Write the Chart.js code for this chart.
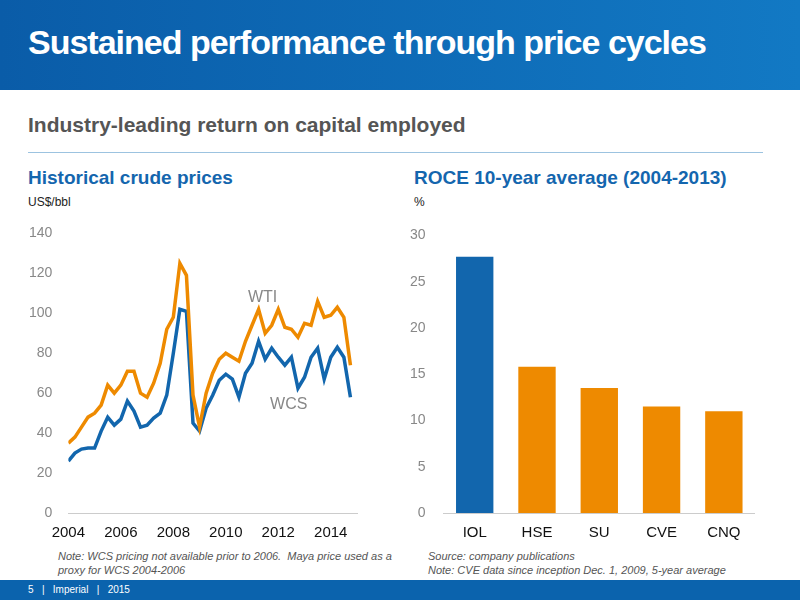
<!DOCTYPE html>
<html>
<head>
<meta charset="utf-8">
<script src="https://cdn.jsdelivr.net/npm/chart.js@4/dist/chart.umd.min.js"></script>
<style>
  body { margin: 0; width: 800px; height: 600px; position: relative; overflow: hidden; background: #fff; font-family: "Liberation Sans", Arial, sans-serif; }
  .header { position: absolute; left: 0; top: 0; width: 800px; height: 90px; background: linear-gradient(90deg, #0a5ca8, #1279c4); }
  .header h1 { position: absolute; left: 28px; top: 23px; margin: 0; color: #fff; font-size: 34px; letter-spacing: -1px; }
  .sub { position: absolute; left: 28px; top: 113px; font-size: 21px; font-weight: bold; color: #555; }
  .rule { position: absolute; left: 28px; top: 152px; width: 735px; border-top: 1px solid #9cc3e0; }
  .ct { position: absolute; font-size: 19px; font-weight: bold; color: #1466ae; }
  .unit { position: absolute; font-size: 12px; color: #222; }
  .note { position: absolute; font-size: 11px; font-style: italic; color: #555; line-height: 14px; }
  .footer { position: absolute; left: 0; top: 580px; width: 800px; height: 20px; background: #0b63ad; color: #fff; font-size: 10px; line-height: 20px; }
  .footer span { margin-left: 28px; }
  canvas { position: absolute; }
</style>
</head>
<body>
<div class="header"><h1>Sustained performance through price cycles</h1></div>
<div class="sub">Industry-leading return on capital employed</div>
<div class="rule"></div>
<div class="ct" style="left:28px;top:167px">Historical crude prices</div>
<div class="unit" style="left:28px;top:195px">US$/bbl</div>
<div class="ct" style="left:414px;top:167px">ROCE 10-year average (2004-2013)</div>
<div class="unit" style="left:414px;top:195px">%</div>
<div class="note" style="left:58px;top:549px">Note: WCS pricing not available prior to 2006.&nbsp; Maya price used as a<br>proxy for WCS 2004-2006</div>
<div class="note" style="left:428px;top:549px">Source: company publications<br>Note: CVE data since inception Dec. 1, 2009, 5-year average</div>
<div class="footer"><span>5 &nbsp;&nbsp;|&nbsp;&nbsp; Imperial &nbsp;&nbsp;|&nbsp;&nbsp; 2015</span></div>
<div style="position:absolute;left:21px;top:217px;width:344px;height:328px"><canvas id="crude"></canvas></div>
<div style="position:absolute;left:400px;top:217px;width:355px;height:328px"><canvas id="roce"></canvas></div>
<script>
const startYear = 2004;
const wti = [35, 38, 43, 48, 50, 54, 64, 60, 64, 71, 71, 60, 58, 65, 75, 92,
  98, 125, 119, 59, 43, 60, 70, 77, 80, 78, 76, 86, 94, 102, 90, 94,
  102, 93, 92, 88, 95, 94, 106, 98, 99, 103, 98, 74];
const wcs = [26, 30, 32, 32.5, 32.5, 41, 48, 44, 47, 56, 51, 43, 44, 47.5, 50, 59,
  80, 102, 101, 45, 41, 52.5, 59, 66.5, 69.5, 67, 58, 70, 75, 86, 77, 82.5,
  78, 74, 78, 62.5, 68, 78, 82.5, 67, 78, 83, 78, 58];
const yearTicks = [2004, 2006, 2008, 2010, 2012, 2014];

const companies = ["IOL", "HSE", "SU", "CVE", "CNQ"];
const roce = [27.7, 15.8, 13.5, 11.5, 11.0];

const BLUE = "#1266ad";
const ORANGE = "#ee8a00";
const font = "'Liberation Sans', Arial, sans-serif";

const toPoints = (arr) => arr.map((v, i) => ({ x: startYear + i / 4, y: v }));

const seriesLabels = {
  id: "seriesLabels",
  afterDatasetsDraw(chart) {
    const { ctx, scales } = chart;
    ctx.save();
    ctx.font = "16px " + font;
    ctx.fillStyle = "#888";
    ctx.textAlign = "center";
    ctx.textBaseline = "middle";
    ctx.fillText("WTI", scales.x.getPixelForValue(2011.4), scales.y.getPixelForValue(108));
    ctx.fillText("WCS", scales.x.getPixelForValue(2012.4), scales.y.getPixelForValue(54.5));
    ctx.restore();
  },
};

new Chart(document.getElementById("crude"), {
  type: "line",
  data: {
    datasets: [
      { label: "WTI", data: toPoints(wti), borderColor: ORANGE, borderWidth: 3.5, pointRadius: 0, tension: 0 },
      { label: "WCS", data: toPoints(wcs), borderColor: BLUE, borderWidth: 3.5, pointRadius: 0, tension: 0 },
    ],
  },
  options: {
    responsive: true,
    maintainAspectRatio: false,
    animation: false,
    layout: { padding: { right: 8 } },
    plugins: { legend: { display: false }, tooltip: { enabled: false } },
    scales: {
      x: {
        type: "linear",
        min: 2004,
        max: 2015,
        afterBuildTicks: (axis) => { axis.ticks = yearTicks.map((v) => ({ value: v })); },
        grid: { display: false },
        border: { color: "#ccc" },
        ticks: { color: "#111", font: { size: 15, family: font }, maxRotation: 0, callback: (v) => v },
      },
      y: {
        min: 0,
        max: 140,
        ticks: { stepSize: 20, color: "#888", font: { size: 14, family: font }, padding: 8 },
        grid: { display: false },
        border: { display: false },
      },
    },
  },
  plugins: [seriesLabels],
});

new Chart(document.getElementById("roce"), {
  type: "bar",
  data: {
    labels: companies,
    datasets: [{ data: roce, backgroundColor: roce.map((v, i) => (i === 0 ? BLUE : ORANGE)), categoryPercentage: 0.6, barPercentage: 1 }],
  },
  options: {
    responsive: true,
    maintainAspectRatio: false,
    animation: false,
    plugins: { legend: { display: false }, tooltip: { enabled: false } },
    scales: {
      x: {
        grid: { display: false },
        border: { color: "#ccc" },
        ticks: { color: "#111", font: { size: 15, family: font } },
      },
      y: {
        min: 0,
        max: 30,
        ticks: { stepSize: 5, color: "#888", font: { size: 14, family: font }, padding: 10 },
        grid: { display: false },
        border: { display: false },
      },
    },
  },
});
</script>
</body>
</html>
